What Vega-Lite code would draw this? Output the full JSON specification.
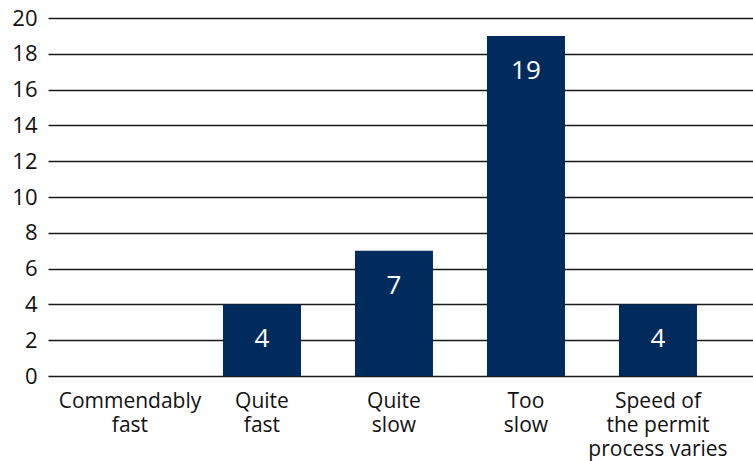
{
  "$schema": "https://vega.github.io/schema/vega-lite/v6.json",
  "autosize": "none",
  "width": 705,
  "height": 358,
  "padding": {"left": 48, "top": 18, "right": 0, "bottom": 85},
  "background": "white",
  "config": {
    "view": {"stroke": null},
    "font": "Open Sans"
  },
  "data": {
    "values": [
      {"category": "Commendably|fast", "value": 0},
      {"category": "Quite|fast", "value": 4},
      {"category": "Quite|slow", "value": 7},
      {"category": "Too|slow", "value": 19},
      {"category": "Speed of|the permit|process varies", "value": 4}
    ]
  },
  "encoding": {
    "x": {
      "field": "category",
      "type": "nominal",
      "sort": null,
      "scale": {"paddingInner": 0.409, "paddingOuter": 0.375, "align": 0.434},
      "axis": {
        "title": null,
        "labelAngle": 0,
        "domain": false,
        "ticks": false,
        "labelExpr": "split(datum.label, '|')",
        "labelFontSize": 21,
        "labelLineHeight": 24,
        "labelPadding": 14,
        "labelColor": "#111111",
        "labelFont": "Open Sans"
      }
    },
    "y": {
      "field": "value",
      "type": "quantitative",
      "scale": {"domain": [0, 20]},
      "axis": {
        "title": null,
        "values": [0, 2, 4, 6, 8, 10, 12, 14, 16, 18, 20],
        "domain": false,
        "ticks": false,
        "grid": true,
        "gridColor": "#1a1a1a",
        "gridWidth": 1.5,
        "labelFontSize": 22,
        "labelPadding": 11,
        "labelColor": "#111111",
        "labelFont": "Open Sans"
      }
    }
  },
  "layer": [
    {
      "mark": {"type": "bar", "color": "#012b5d"}
    },
    {
      "transform": [{"filter": "datum.value > 0"}],
      "mark": {"type": "text", "color": "white", "fontSize": 26, "baseline": "middle", "dy": 35, "font": "Open Sans"},
      "encoding": {"text": {"field": "value", "type": "quantitative"}}
    }
  ]
}
